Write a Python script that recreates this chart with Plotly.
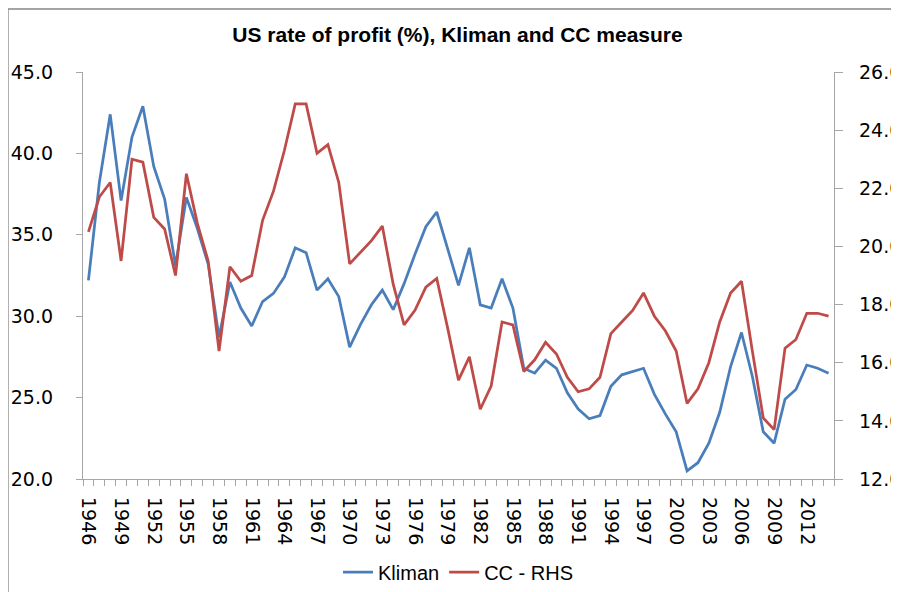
import plotly.graph_objects as go

years = list(range(1946, 2015))

kliman = [32.2, 38.2, 42.4, 37.1, 41.0, 42.9, 39.2, 37.2, 33.1, 37.3,
          35.4, 33.2, 28.7, 32.1, 30.5, 29.4, 30.9, 31.4, 32.4, 34.2,
          33.9, 31.6, 32.3, 31.2, 28.1, 29.5, 30.7, 31.6, 30.4, 32.0,
          33.8, 35.5, 36.4, 34.2, 31.9, 34.2, 30.7, 30.5, 32.3, 30.5,
          26.8, 26.5, 27.3, 26.8, 25.3, 24.3, 23.7, 23.9, 25.7, 26.4,
          26.6, 26.8, 25.2, 24.0, 22.9, 20.5, 21.0, 22.2, 24.1, 26.9,
          29.0, 26.3, 22.9, 22.2, 24.9, 25.5, 27.0, 26.8, 26.5]

cc_rhs = [20.5, 21.7, 22.2, 19.5, 23.0, 22.9, 21.0, 20.6, 19.0, 22.5,
          20.8, 19.5, 16.4, 19.3, 18.8, 19.0, 20.9, 21.9, 23.3, 24.9,
          24.9, 23.2, 23.5, 22.2, 19.4, 19.8, 20.2, 20.7, 18.7, 17.3,
          17.8, 18.6, 18.9, 17.2, 15.4, 16.2, 14.4, 15.2, 17.4, 17.3,
          15.7, 16.1, 16.7, 16.3, 15.5, 15.0, 15.1, 15.5, 17.0, 17.4,
          17.8, 18.4, 17.6, 17.1, 16.4, 14.6, 15.1, 16.0, 17.4, 18.4,
          18.8, 16.4, 14.1, 13.7, 16.5, 16.8, 17.7, 17.7, 17.6]

label_years = list(range(1946, 2013, 3))

BLUE = "#4A7EBB"
RED = "#BE4B48"
AXIS = "#A6A6A6"
TICKFONT = dict(family="DejaVu Sans", size=19, color="#000000")

fig = go.Figure()
fig.add_trace(go.Scatter(x=years, y=kliman, name="Kliman", mode="lines",
                         line=dict(color=BLUE, width=2.75)))
fig.add_trace(go.Scatter(x=years, y=cc_rhs, name="CC - RHS", mode="lines",
                         line=dict(color=RED, width=2.75), yaxis="y2"))

fig.update_layout(
    width=899, height=592,
    margin=dict(l=75, r=73, t=64, b=121, autoexpand=False),
    paper_bgcolor="white", plot_bgcolor="white",
    title=dict(text="<b>US rate of profit (%), Kliman and CC measure</b>",
               x=0.5, xanchor="center", y=1 - 27 / 592, yanchor="middle",
               yref="container",
               font=dict(family="Liberation Sans", size=21, color="#000000")),
    xaxis=dict(range=[1945.5, 2014.5], tickmode="array", tickvals=label_years,
               ticktext=[str(y) for y in label_years], tickangle=90,
               ticks="", showline=True, linecolor=AXIS, linewidth=1.3,
               showgrid=False, zeroline=False, tickfont=TICKFONT,
               ticklabelstandoff=13, automargin=False,
               minor=dict(tick0=1945.5, dtick=1, ticks="outside", ticklen=6,
                          tickcolor=AXIS, tickwidth=1.3, showgrid=False)),
    yaxis=dict(range=[20, 45], dtick=5, tick0=20, tickformat=".1f",
               ticks="outside", ticklen=6, tickcolor=AXIS, tickwidth=1.3,
               showline=True, linecolor=AXIS, linewidth=1.3,
               showgrid=False, zeroline=False, tickfont=TICKFONT,
               ticklabelstandoff=19, automargin=False),
    yaxis2=dict(range=[12, 26], dtick=2, tick0=12, tickformat=".1f",
                overlaying="y", side="right",
                ticks="outside", ticklen=8, tickcolor=AXIS, tickwidth=1.3,
                showline=True, linecolor=AXIS, linewidth=1.3,
                showgrid=False, zeroline=False, tickfont=TICKFONT,
                tickprefix="\u00a0\u00a0", ticklabeloverflow="allow",
                automargin=False),
    legend=dict(orientation="h", x=0.5, xanchor="center",
                y=(479 - 572) / 407, yanchor="middle",
                font=dict(family="Liberation Sans", size=20, color="#000000"),
                bgcolor="rgba(0,0,0,0)"),
    showlegend=True,
    shapes=[dict(type="rect", xref="paper", yref="paper",
                 x0=(8 - 83) / 751, x1=(930 - 83) / 751,
                 y0=(479 - 620) / 407, y1=(479 - 9) / 407,
                 line=dict(color="#868686", width=1.3), layer="below")],
)

fig.write_html("out.html")
